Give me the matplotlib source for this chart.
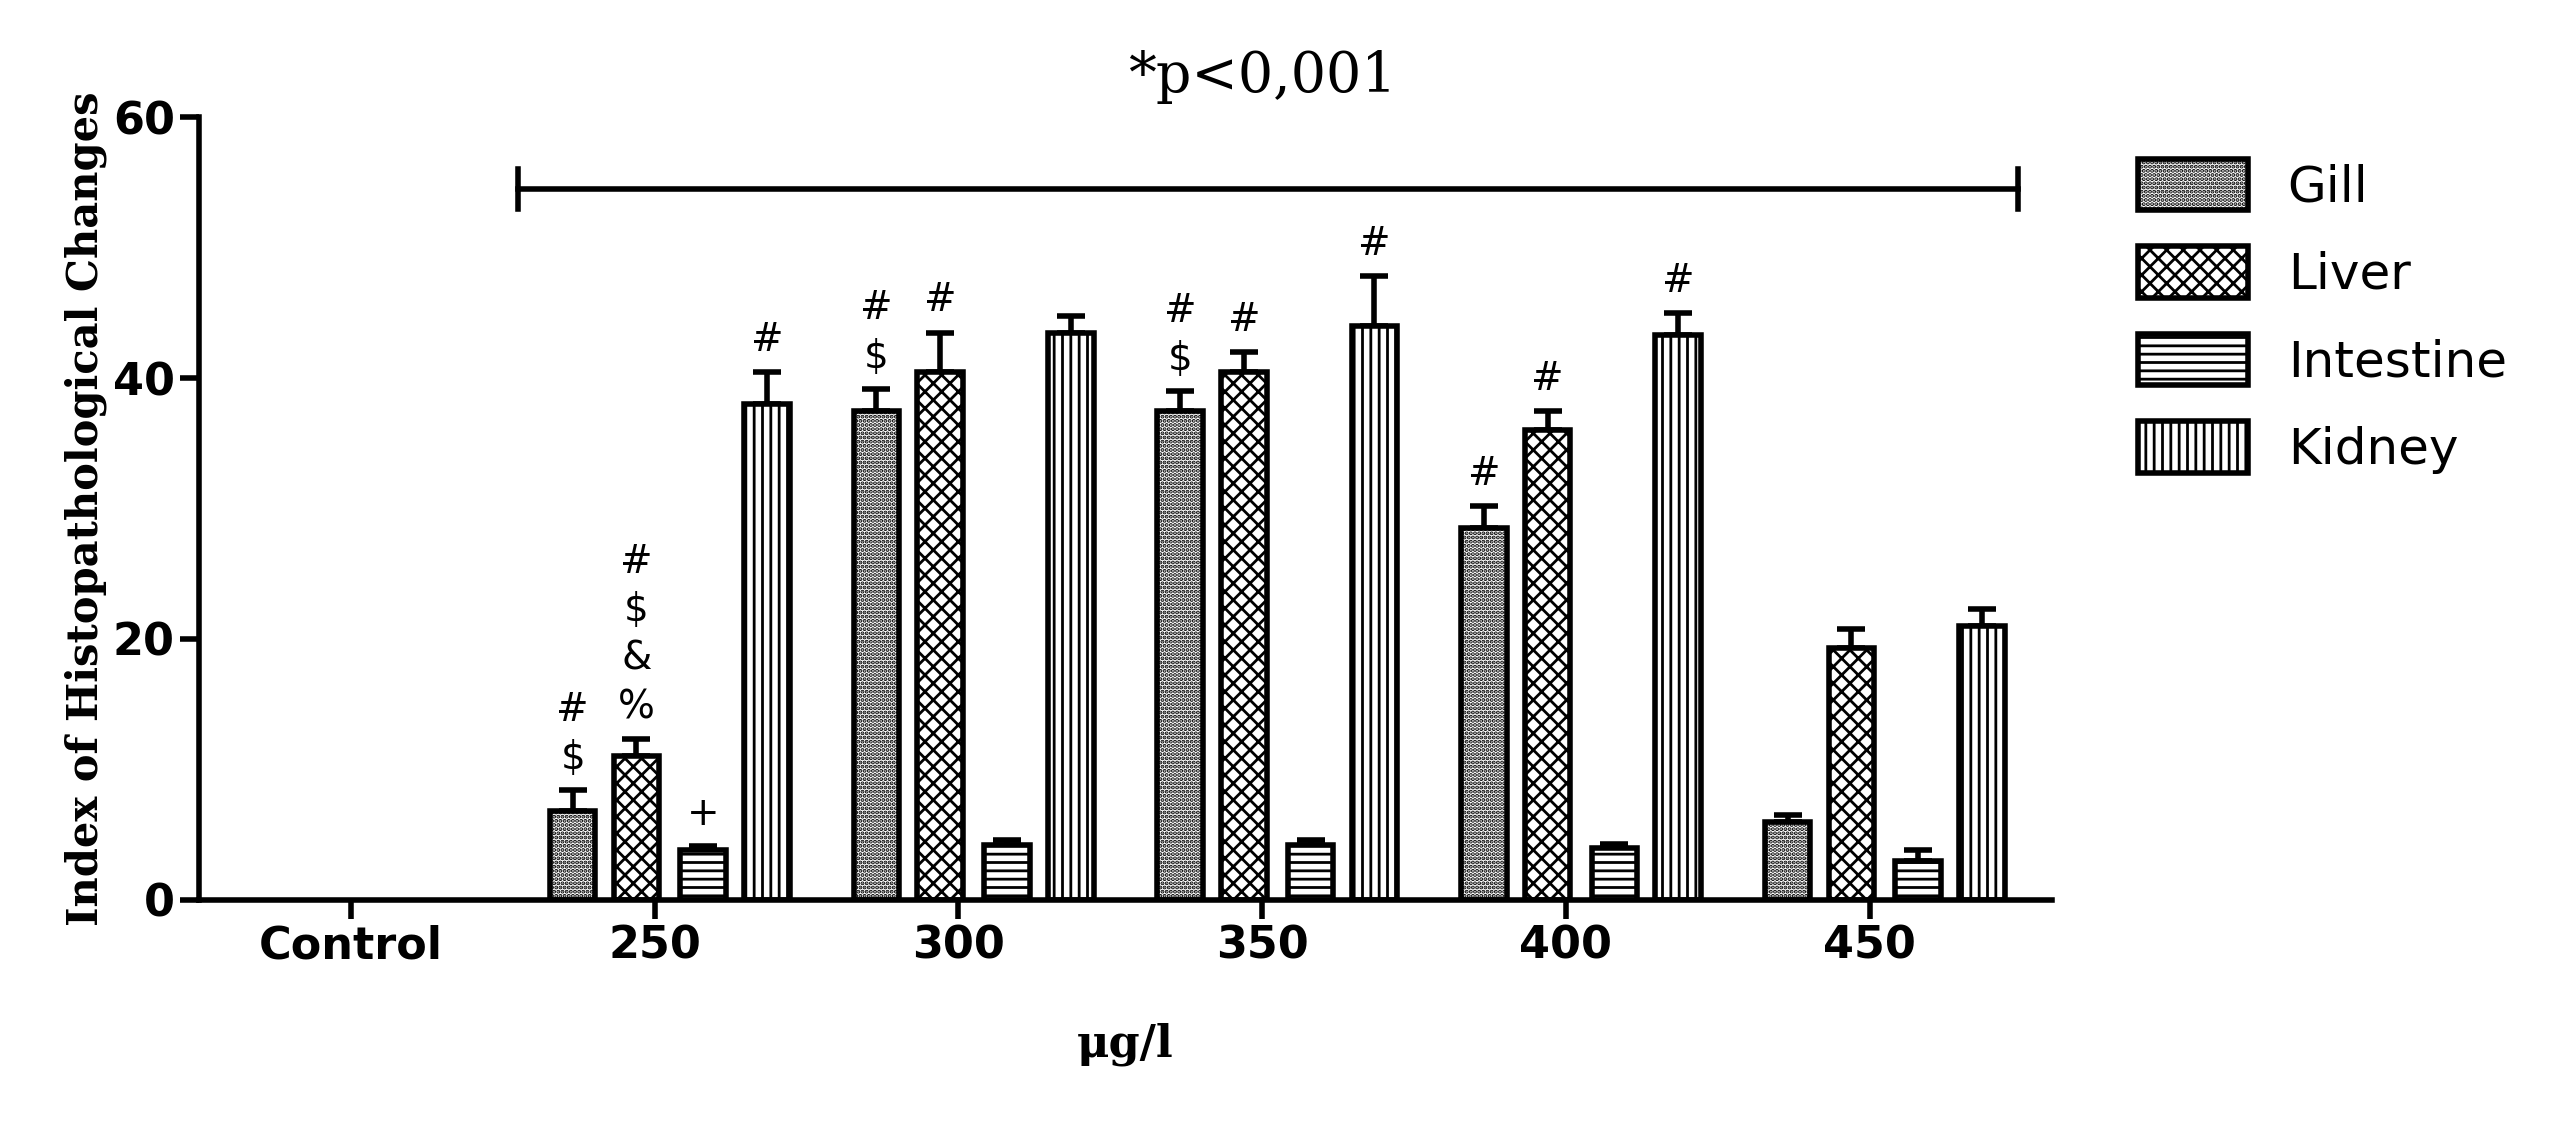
import matplotlib
matplotlib.use("Agg")
import matplotlib.pyplot as plt
import numpy as np

groups = ["Control", "250", "300", "350", "400", "450"]
series = ["Gill", "Liver", "Intestine", "Kidney"]
gill = [0, 6.8, 37.5, 37.5, 28.5, 6.0]
gill_err = [0, 1.6, 1.7, 1.5, 1.7, 0.5]
liver = [0, 11.0, 40.5, 40.5, 36.0, 19.3]
liver_err = [0, 1.3, 3.0, 1.5, 1.5, 1.5]
intestine = [0, 3.8, 4.2, 4.2, 4.0, 3.0]
intestine_err = [0, 0.3, 0.4, 0.4, 0.3, 0.8]
kidney = [0, 38.0, 43.5, 44.0, 43.3, 21.0]
kidney_err = [0, 2.5, 1.3, 3.8, 1.7, 1.3]
# annotations: (group index, series index, text)
annotations = [(1, 0, "#\n$"), (1, 1, "#\n$\n&\n%"), (1, 2, "+"), (1, 3, "#"),
               (2, 0, "#\n$"), (2, 1, "#"),
               (3, 0, "#\n$"), (3, 1, "#"), (3, 3, "#"),
               (4, 0, "#"), (4, 1, "#"), (4, 3, "#")]

plt.rcParams['hatch.linewidth'] = 2.0
fig = plt.figure(figsize=(25.52, 11.39), dpi=100)
ax = fig.add_axes([0.078, 0.21, 0.726, 0.687])
x = np.arange(len(groups))
vals = [gill, liver, intestine, kidney]
errs = [gill_err, liver_err, intestine_err, kidney_err]
hatches = ['....', 'xx', '--', '||']
offsets = [-0.27, -0.06, 0.16, 0.37]
w = 0.15
for i in range(4):
    v = np.array(vals[i]); e = np.array(errs[i])
    mask = v > 0
    ax.bar(x[mask] + offsets[i], v[mask], w, color='white', edgecolor='black',
           hatch=hatches[i], linewidth=4, label=series[i], zorder=2)
    ax.errorbar(x[mask] + offsets[i], v[mask], yerr=[np.zeros(mask.sum()), e[mask]],
                fmt='none', ecolor='black', elinewidth=4, capsize=10, capthick=4, zorder=1)
for g, s, t in annotations:
    top = vals[s][g] + errs[s][g]
    ax.text(x[g] + offsets[s], top + 1.0, t, ha='center', va='bottom',
            fontsize=28, linespacing=1.35)
ax.set_xlim(-0.5, 5.6)
ax.set_ylim(0, 60)
ax.set_yticks([0, 20, 40, 60])
ax.set_xticks(x)
ax.set_xticklabels(groups)
for lab in ax.get_xticklabels() + ax.get_yticklabels():
    lab.set_fontsize(32); lab.set_fontweight('bold')
ax.tick_params(width=4, length=14)
for sp in ['top', 'right']:
    ax.spines[sp].set_visible(False)
for sp in ['left', 'bottom']:
    ax.spines[sp].set_linewidth(4)
ax.set_ylabel("Index of Histopathological Changes", family='DejaVu Serif',
              fontweight='bold', fontsize=30)
ax.set_xlabel("μg/l", family='DejaVu Serif', fontweight='bold', fontsize=32, labelpad=40)
ax.plot([0.55, 5.49], [54.5, 54.5], color='black', lw=4, clip_on=False)
ax.plot([0.55, 0.55], [53, 56], color='black', lw=4, clip_on=False)
ax.plot([5.49, 5.49], [53, 56], color='black', lw=4, clip_on=False)
ax.text(3.0, 61, "*p<0,001", ha='center', va='bottom', family='DejaVu Serif', fontsize=40)
leg = fig.legend(loc='upper left', bbox_to_anchor=(0.82, 0.9), frameon=False,
                 fontsize=36, handlelength=2.2, handleheight=1.2, labelspacing=0.7)
fig.savefig("out.png", dpi=100)
